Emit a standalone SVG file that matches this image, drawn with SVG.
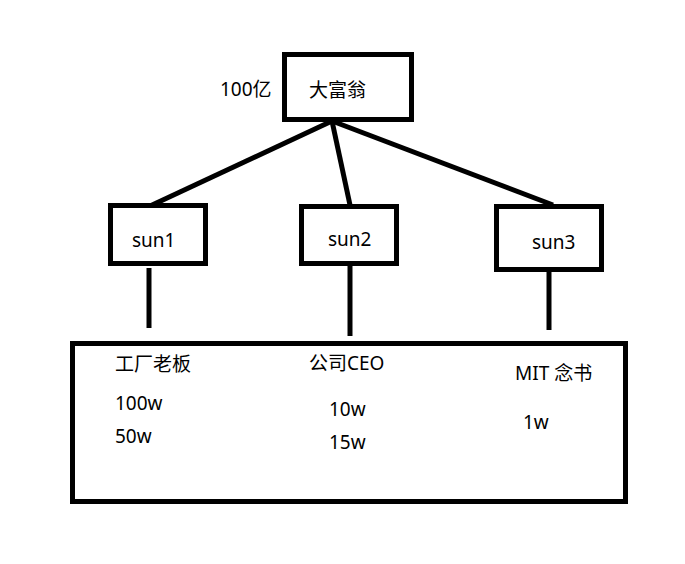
<svg xmlns="http://www.w3.org/2000/svg" width="685" height="564" viewBox="0 0 685 564">
<style>
.box{fill:#fff;stroke:#000;stroke-width:5}
.ln{stroke:#000;stroke-width:5;fill:none}
text{font-family:"Noto Sans","Noto Sans CJK SC",sans-serif;font-size:19px;fill:#000}
</style>
<rect width="685" height="564" fill="#fff"/>
<g id="connectors">
<line class="ln" x1="332" y1="121" x2="150" y2="206"/>
<line class="ln" x1="332" y1="121" x2="350" y2="205"/>
<line class="ln" x1="332" y1="121" x2="553" y2="205"/>
<line class="ln" x1="149" y1="268" x2="149" y2="328"/>
<line class="ln" x1="350" y1="266" x2="350" y2="336"/>
<line class="ln" x1="549" y1="272" x2="549" y2="330"/>
</g>
<g id="root">
<rect class="box" x="284.5" y="54.5" width="127" height="65"/>
<text x="309" y="97">大富翁</text>
<text x="220" y="96">100亿</text>
</g>
<g id="sun1">
<rect class="box" x="110.5" y="205.5" width="95" height="58"/>
<text x="132" y="247">sun1</text>
</g>
<g id="sun2">
<rect class="box" x="301.5" y="206.5" width="95" height="57"/>
<text x="328" y="246">sun2</text>
</g>
<g id="sun3">
<rect class="box" x="496.5" y="206.5" width="105" height="63"/>
<text x="532" y="249">sun3</text>
</g>
<g id="jobs">
<rect class="box" x="72.5" y="343.5" width="553" height="158"/>
<text x="115" y="371">工厂老板</text>
<text x="115" y="410">100w</text>
<text x="115" y="443">50w</text>
<text x="309" y="370">公司CEO</text>
<text x="329" y="416">10w</text>
<text x="329" y="449">15w</text>
<text x="515" y="380">MIT 念书</text>
<text x="523" y="429">1w</text>
</g>
</svg>
